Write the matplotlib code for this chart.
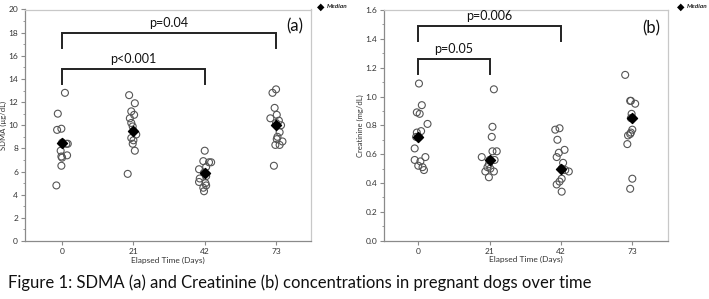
import numpy as np
import matplotlib
matplotlib.use("Agg")
import matplotlib.pyplot as plt
from matplotlib.ticker import MultipleLocator

plt.rcParams['font.family'] = ['Lato', 'DejaVu Sans']

# ---------------- data ----------------
days = ["0", "21", "42", "73"]

sdma_d0 = [12.8, 11.0, 9.7, 9.6, 8.5, 8.4, 8.4, 7.8, 7.4, 7.3, 7.2, 6.5, 4.8]
sdma_d21 = [12.6, 11.9, 11.2, 10.9, 10.6, 10.2, 9.9, 9.5, 9.2, 8.9, 8.7, 8.4, 7.8, 5.8]
sdma_d42 = [7.8, 6.9, 6.8, 6.8, 6.4, 6.2, 5.9, 5.6, 5.4, 5.1, 5.0, 4.8, 4.6, 4.3]
sdma_d73 = [13.1, 12.8, 11.5, 10.9, 10.6, 10.4, 10.2, 10.0, 9.4, 9.0, 8.8, 8.6, 8.3, 8.3, 6.5]
sdma_median = [8.5, 9.5, 5.9, 10.05]

# horizontal jitter (category units)
sdma_j0 = [0.04, -0.06, -0.01, -0.07, 0.0, 0.08, 0.06, -0.02, 0.07, -0.01, 0.0, -0.01, -0.08]
sdma_j21 = [-0.06, 0.02, -0.03, 0.01, -0.05, -0.03, -0.01, 0.0, 0.04, -0.03, 0.0, -0.01, 0.02, -0.08]
sdma_j42 = [0.0, -0.02, 0.06, 0.09, 0.02, -0.08, -0.01, 0.02, -0.07, -0.08, 0.01, 0.02, -0.02, -0.01]
sdma_j73 = [0.0, -0.05, -0.02, 0.01, -0.08, 0.04, 0.0, 0.07, 0.05, 0.02, 0.01, 0.09, -0.01, 0.05, -0.03]

crea_d0 = [1.09, 0.94, 0.89, 0.88, 0.81, 0.76, 0.75, 0.72, 0.72, 0.64, 0.58, 0.56, 0.55, 0.52, 0.51, 0.49]
crea_d21 = [1.05, 0.79, 0.72, 0.62, 0.62, 0.58, 0.56, 0.56, 0.53, 0.51, 0.50, 0.48, 0.48, 0.44]
crea_d42 = [0.78, 0.77, 0.70, 0.63, 0.61, 0.58, 0.54, 0.50, 0.49, 0.48, 0.43, 0.41, 0.39, 0.34]
crea_d73 = [1.15, 0.97, 0.97, 0.95, 0.88, 0.85, 0.85, 0.77, 0.75, 0.74, 0.73, 0.67, 0.43, 0.36]
crea_median = [0.72, 0.56, 0.50, 0.85]

crea_j0 = [0.01, 0.05, -0.02, 0.02, 0.13, 0.04, -0.02, -0.03, 0.01, -0.05, 0.10, -0.05, 0.03, 0.0, 0.06, 0.08]
crea_j21 = [0.06, 0.04, 0.03, 0.04, 0.10, -0.11, 0.0, 0.07, -0.01, -0.03, 0.01, -0.06, 0.06, -0.01]
crea_j42 = [-0.02, -0.08, -0.05, 0.05, -0.03, -0.06, 0.03, 0.01, 0.06, 0.11, 0.01, -0.02, -0.06, 0.01]
crea_j73 = [-0.10, -0.03, -0.02, 0.04, -0.01, 0.0, -0.02, 0.0, -0.02, -0.03, -0.06, -0.07, 0.0, -0.03]

# significance brackets: (from category, to category, label)
sdma_brackets = [(0, 3, "p=0.04"), (0, 2, "p<0.001")]
sdma_bracket_y = [18.0, 14.9]
crea_brackets = [(0, 2, "p=0.006"), (0, 1, "p=0.05")]
crea_bracket_y = [1.49, 1.26]

# ---------------- figure ----------------
W, H = 709, 299
fig = plt.figure(figsize=(W / 100, H / 100), dpi=100)

def px_axes(x0, x1, ytop, ybot):
    return fig.add_axes([x0 / W, 1 - ybot / H, (x1 - x0) / W, (ybot - ytop) / H])

axA = px_axes(25, 311, 9.5, 241)
axB = px_axes(384, 668, 10, 240.7)

frame_col = "#c8c8c8"
axis_col = "#8a8a8a"


def draw_panel(ax, groups, jitters, medians, ylim, major, minor, ylabel,
               brackets, bracket_y, drop, label_gap, tag, tag_y, xlim, fmt):
    for i, (vals, jit) in enumerate(zip(groups, jitters)):
        xs = i + np.asarray(jit)
        ax.scatter(xs, vals, s=25, facecolors="none", edgecolors="#555555",
                   linewidths=0.8, zorder=3)
    ax.scatter(range(len(medians)), medians, marker="D", s=26, color="black", zorder=4)
    ax.set_xlim(*xlim)
    ax.set_ylim(*ylim)
    ax.set_xticks(range(len(days)))
    ax.set_xticklabels(days)
    ax.yaxis.set_major_locator(MultipleLocator(major))
    ax.yaxis.set_minor_locator(MultipleLocator(minor))
    ax.yaxis.set_major_formatter(plt.FormatStrFormatter(fmt))
    ax.tick_params(axis="both", which="major", labelsize=6, length=3, color=axis_col,
                   labelcolor="#333333", pad=2)
    ax.tick_params(axis="y", which="minor", length=1.5, color=axis_col)
    for side in ("top", "right"):
        ax.spines[side].set_color(frame_col)
    for side in ("left", "bottom"):
        ax.spines[side].set_color(axis_col)
    for sp in ax.spines.values():
        sp.set_linewidth(0.9)
    ax.set_xlabel("Elapsed Time (Days)", fontsize=6, color="#333333", labelpad=1)
    ax.set_ylabel(ylabel, fontsize=5.5, color="#333333", labelpad=1)
    for (a, b, lab), yb in zip(brackets, bracket_y):
        ax.plot([a, a, b, b], [yb - drop, yb, yb, yb - drop], color="#222222",
                lw=1.4, solid_joinstyle="miter", zorder=5)
        ax.text((a + b) / 2, yb + label_gap, lab, ha="center", va="bottom",
                fontsize=9, color="#111111")
    ax.text(3.26, tag_y, tag, ha="center", va="center", fontsize=12, color="#111111")


draw_panel(axA, [sdma_d0, sdma_d21, sdma_d42, sdma_d73],
           [sdma_j0, sdma_j21, sdma_j42, sdma_j73], sdma_median,
           (0, 20), 2, 1, "SDMA (µg/dL)", sdma_brackets, sdma_bracket_y,
           1.3, 0.3, "(a)", 18.5, (-0.52, 3.49), "%d")
draw_panel(axB, [crea_d0, crea_d21, crea_d42, crea_d73],
           [crea_j0, crea_j21, crea_j42, crea_j73], crea_median,
           (0, 1.6), 0.2, 0.1, "Creatinine (mg/dL)", crea_brackets, crea_bracket_y,
           0.104, 0.025, "(b)", 1.47, (-0.48, 3.50), "%.1f")

# "Median" legends
for mx in (321, 681):
    fig.text(mx / W, 1 - 6.5 / H, "\u25C6", fontsize=7, ha="center", va="center",
             family=["DejaVu Sans"])
    fig.text((mx + 5.5) / W, 1 - 6.5 / H, "Median", fontsize=4.6, fontstyle="italic",
             fontweight="bold", ha="left", va="center", color="#222222")

fig.text(8 / W, 1 - 283 / H,
         "Figure 1: SDMA (a) and Creatinine (b) concentrations in pregnant dogs over time",
         fontsize=12, ha="left", va="center", color="#111111")

fig.savefig("out.png", dpi=100)
